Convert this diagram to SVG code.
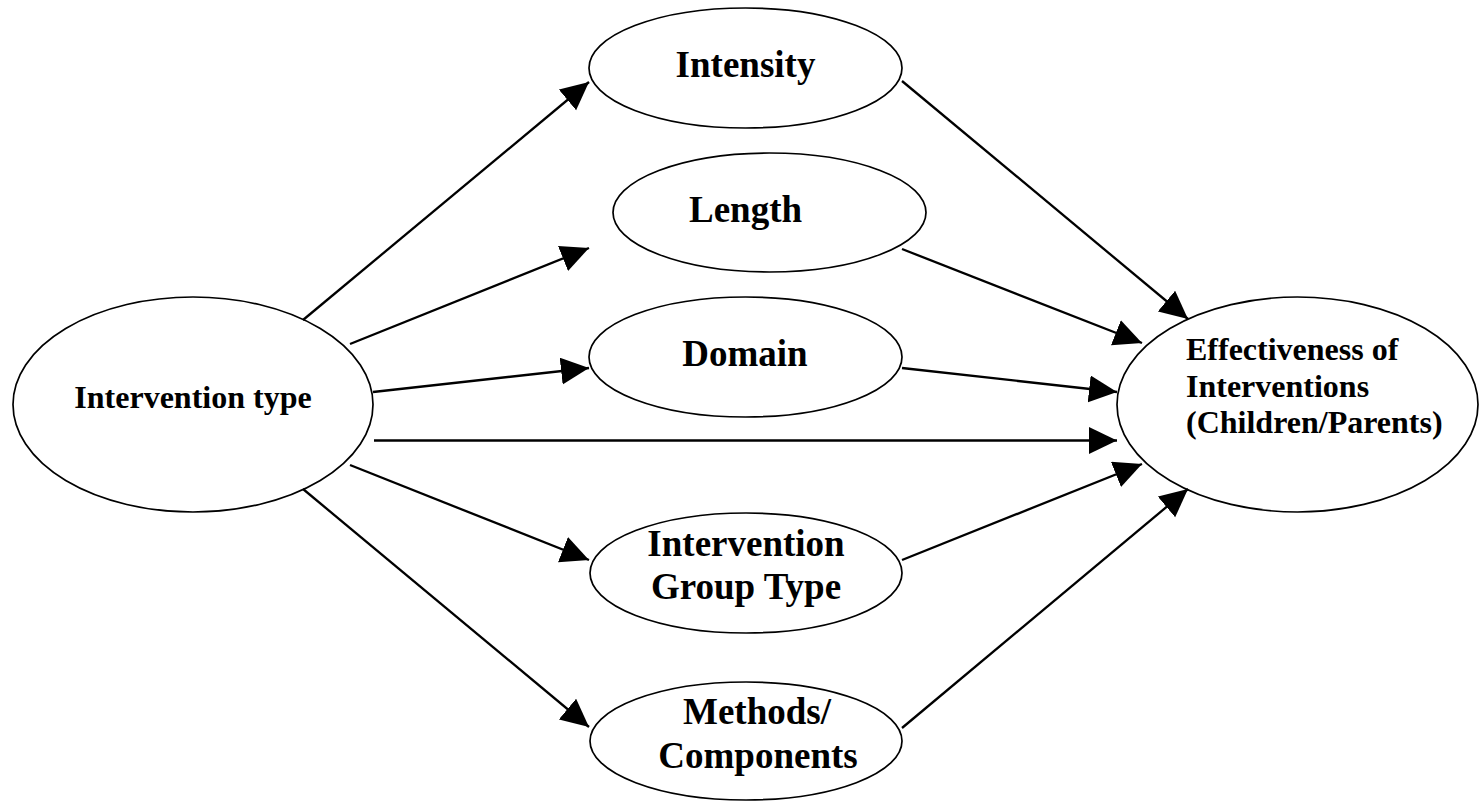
<svg xmlns="http://www.w3.org/2000/svg" width="1484" height="801" viewBox="0 0 1484 801">
<style>
.node{fill:#fff;stroke:#000;stroke-width:1.7}
.lbl{font-family:"Liberation Serif","Times New Roman",serif;font-weight:bold;fill:#000}
.big{font-size:37px;text-anchor:middle}
.mid{font-size:32px}
.conn line{stroke:#000;stroke-width:2.3;marker-end:url(#ah)}
</style>
<defs>
<marker id="ah" markerUnits="userSpaceOnUse" markerWidth="29" markerHeight="28" refX="28" refY="13.5" orient="auto">
<path d="M0,0 L28,13.5 L0,27 z" fill="#000"/>
</marker>
</defs>
<rect width="1484" height="801" fill="#fff"/>
<g id="intervention-type">
<ellipse class="node" cx="193" cy="404.5" rx="180" ry="107.5"/>
<text class="lbl mid" x="193" y="408" text-anchor="middle">Intervention type</text>
</g>
<g id="intensity">
<ellipse class="node" cx="745.5" cy="68" rx="156.5" ry="60"/>
<text class="lbl big" x="745.5" y="77">Intensity</text>
</g>
<g id="length">
<ellipse class="node" cx="769.5" cy="212.5" rx="156.5" ry="59.5"/>
<text class="lbl big" x="745.5" y="222">Length</text>
</g>
<g id="domain">
<ellipse class="node" cx="745.5" cy="357" rx="156.5" ry="60"/>
<text class="lbl big" x="745" y="366">Domain</text>
</g>
<g id="group-type">
<ellipse class="node" cx="746" cy="573" rx="156" ry="60"/>
<text class="lbl big" x="746" y="556">Intervention</text>
<text class="lbl big" x="746" y="599">Group Type</text>
</g>
<g id="methods">
<ellipse class="node" cx="746" cy="741" rx="156" ry="59"/>
<text class="lbl big" x="757" y="724">Methods/</text>
<text class="lbl big" x="758" y="768">Components</text>
</g>
<g id="effectiveness">
<ellipse class="node" cx="1297.5" cy="404.5" rx="180.5" ry="107.5"/>
<text class="lbl mid" x="1186" y="360">Effectiveness of</text>
<text class="lbl mid" x="1186" y="397">Interventions</text>
<text class="lbl mid" x="1186" y="433">(Children/Parents)</text>
</g>
<g id="connectors" class="conn">
<line x1="303" y1="320" x2="589" y2="82"/>
<line x1="350" y1="344" x2="589" y2="248"/>
<line x1="373" y1="392" x2="589" y2="368"/>
<line x1="374" y1="440.5" x2="1117" y2="440.5"/>
<line x1="350" y1="465" x2="589" y2="560"/>
<line x1="303" y1="489" x2="589" y2="727"/>
<line x1="902" y1="81" x2="1188" y2="319"/>
<line x1="902" y1="249" x2="1142" y2="343"/>
<line x1="902" y1="368" x2="1117" y2="392"/>
<line x1="902" y1="560" x2="1142" y2="464"/>
<line x1="902" y1="728" x2="1188" y2="489"/>
</g>
</svg>
